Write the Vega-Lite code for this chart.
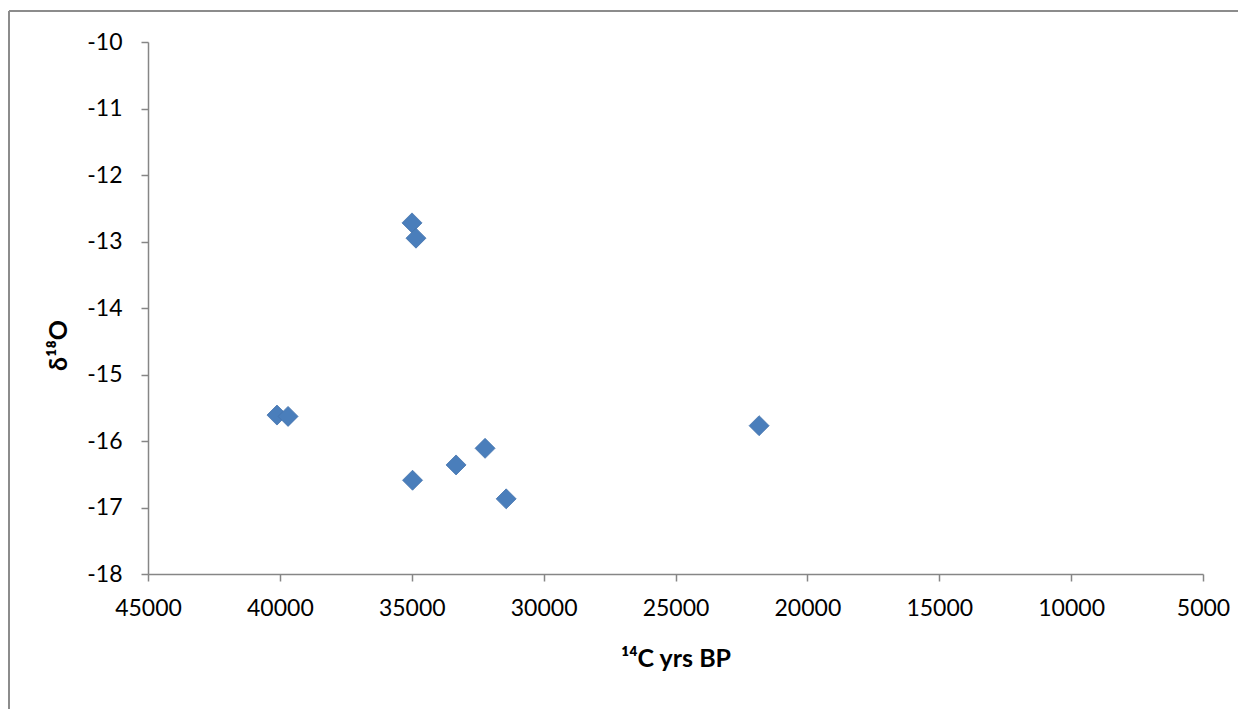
{
  "$schema": "https://vega.github.io/schema/vega-lite/v6.json",
  "width": 1055,
  "height": 532,
  "autosize": {"type": "none"},
  "padding": {"left": 148, "top": 42, "right": 35, "bottom": 135},
  "background": "white",
  "config": {
    "view": {"stroke": null},
    "axis": {
      "labelFont": "Lato",
      "labelFontSize": 23,
      "labelColor": "#000000",
      "labelFlush": false,
      "labelOverlap": false,
      "titleFont": "Lato",
      "titleFontSize": 25,
      "titleFontWeight": "bold",
      "titleColor": "#000000",
      "domainColor": "#868686",
      "domainWidth": 1.5,
      "tickColor": "#868686",
      "tickWidth": 1.5,
      "tickSize": 7,
      "grid": false
    }
  },
  "datasets": {
    "pts": [
      {"age": 34990, "d18O": -12.72},
      {"age": 34840, "d18O": -12.95},
      {"age": 40110, "d18O": -15.61},
      {"age": 39690, "d18O": -15.63},
      {"age": 34970, "d18O": -16.59},
      {"age": 33320, "d18O": -16.36},
      {"age": 32220, "d18O": -16.11},
      {"age": 31420, "d18O": -16.87},
      {"age": 21830, "d18O": -15.77}
    ],
    "frame": [
      {"x1": 50270, "x2": 50270, "y1": -9.534, "y2": -21},
      {"x1": 50270, "x2": -3000, "y1": -9.534, "y2": -9.534}
    ]
  },
  "layer": [
    {
      "data": {"name": "frame"},
      "mark": {"type": "rule", "color": "#8c8c8c", "strokeWidth": 2},
      "encoding": {
        "x": {"field": "x1", "type": "quantitative", "scale": {"domain": [45000, 5000]}},
        "x2": {"field": "x2"},
        "y": {"field": "y1", "type": "quantitative", "scale": {"domain": [-18, -10]}},
        "y2": {"field": "y2"}
      }
    },
    {
      "data": {"name": "pts"},
      "mark": {"type": "point", "shape": "diamond", "filled": true, "size": 400, "color": "#4A7EBB", "opacity": 1, "stroke": "#4573AD", "strokeWidth": 0.8},
      "encoding": {
        "x": {
          "field": "age", "type": "quantitative",
          "scale": {"domain": [45000, 5000], "nice": false, "zero": false},
          "axis": {"values": [45000, 40000, 35000, 30000, 25000, 20000, 15000, 10000, 5000], "labelExpr": "'' + datum.value", "labelPadding": 16, "title": "¹⁴C yrs BP", "titlePadding": 26}
        },
        "y": {
          "field": "d18O", "type": "quantitative",
          "scale": {"domain": [-18, -10], "nice": false, "zero": false},
          "axis": {"values": [-18, -17, -16, -15, -14, -13, -12, -11, -10], "labelExpr": "'' + datum.value", "labelPadding": 19, "title": "δ¹⁸O", "titleX": -90, "titleY": 303, "titleAlign": "center", "titleBaseline": "middle", "titleAngle": 270}
        }
      }
    }
  ]
}
